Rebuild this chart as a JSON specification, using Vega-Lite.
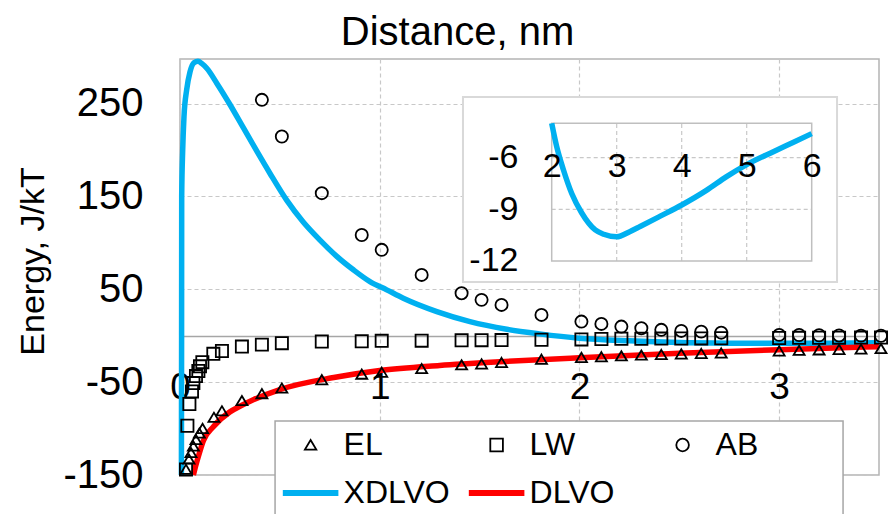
{
  "$schema": "https://vega.github.io/schema/vega-lite/v6.json",
  "width": 699,
  "height": 416,
  "autosize": "none",
  "padding": {"left": 180, "top": 59, "right": 10, "bottom": 39},
  "background": "white",
  "config": {
    "font": "Liberation Sans",
    "view": {"stroke": "#b4b4b4", "strokeWidth": 1.5},
    "axis": {
      "labelFont": "Liberation Sans",
      "labelColor": "#000000",
      "titleFont": "Liberation Sans",
      "titleColor": "#000000",
      "titleFontWeight": "normal",
      "ticks": false,
      "domain": false,
      "labelFlush": false,
      "labelOverlap": false,
      "labelExpr": "'' + datum.value"
    }
  },
  "datasets": {
    "xdlvo": [
      {"x": 0.007, "y": -150}, {"x": 0.008, "y": 0}, {"x": 0.0085, "y": 150},
      {"x": 0.0135, "y": 200}, {"x": 0.02, "y": 236}, {"x": 0.0335, "y": 265},
      {"x": 0.05, "y": 284}, {"x": 0.07, "y": 294}, {"x": 0.09, "y": 295.5},
      {"x": 0.11, "y": 293}, {"x": 0.134, "y": 288}, {"x": 0.184, "y": 272},
      {"x": 0.25, "y": 249}, {"x": 0.317, "y": 224}, {"x": 0.384, "y": 199},
      {"x": 0.45, "y": 175}, {"x": 0.534, "y": 146}, {"x": 0.617, "y": 122.5},
      {"x": 0.701, "y": 103}, {"x": 0.785, "y": 85.5}, {"x": 0.868, "y": 71},
      {"x": 0.951, "y": 58.3}, {"x": 1.035, "y": 49.4}, {"x": 1.118, "y": 40.4},
      {"x": 1.286, "y": 26}, {"x": 1.452, "y": 15.2}, {"x": 1.636, "y": 7},
      {"x": 1.8, "y": 2}, {"x": 2.0, "y": -2.7}, {"x": 2.25, "y": -5.5},
      {"x": 2.5, "y": -7.3}, {"x": 2.75, "y": -8}, {"x": 3.0, "y": -8.2},
      {"x": 3.25, "y": -8}, {"x": 3.5, "y": -7.6}
    ],
    "dlvo": [
      {"x": 0.067, "y": -150}, {"x": 0.08, "y": -139}, {"x": 0.092, "y": -130},
      {"x": 0.117, "y": -113}, {"x": 0.167, "y": -98}, {"x": 0.25, "y": -82},
      {"x": 0.3, "y": -76}, {"x": 0.367, "y": -69}, {"x": 0.5, "y": -58},
      {"x": 0.77, "y": -45}, {"x": 1.0, "y": -37.5}, {"x": 1.3, "y": -32},
      {"x": 1.6, "y": -28}, {"x": 2.0, "y": -23.7}, {"x": 2.5, "y": -19},
      {"x": 3.0, "y": -15}, {"x": 3.5, "y": -11.8}
    ],
    "markers": [
      {"series": "EL", "x": 0.03, "y": -144}, {"series": "EL", "x": 0.045, "y": -133},
      {"series": "EL", "x": 0.055, "y": -126}, {"series": "EL", "x": 0.067, "y": -119},
      {"series": "EL", "x": 0.08, "y": -112}, {"series": "EL", "x": 0.097, "y": -105},
      {"series": "EL", "x": 0.113, "y": -100}, {"series": "EL", "x": 0.17, "y": -88},
      {"series": "EL", "x": 0.21, "y": -81}, {"series": "EL", "x": 0.31, "y": -70},
      {"series": "EL", "x": 0.41, "y": -62.5}, {"series": "EL", "x": 0.51, "y": -56.5},
      {"series": "EL", "x": 0.71, "y": -47.5}, {"series": "EL", "x": 0.91, "y": -41.5},
      {"series": "EL", "x": 1.01, "y": -39.5}, {"series": "EL", "x": 1.21, "y": -35.5},
      {"series": "EL", "x": 1.41, "y": -31.5}, {"series": "EL", "x": 1.51, "y": -30.5},
      {"series": "EL", "x": 1.61, "y": -29}, {"series": "EL", "x": 1.81, "y": -25.5},
      {"series": "EL", "x": 2.01, "y": -23.5}, {"series": "EL", "x": 2.11, "y": -22.8},
      {"series": "EL", "x": 2.21, "y": -21.8}, {"series": "EL", "x": 2.31, "y": -21},
      {"series": "EL", "x": 2.41, "y": -20.4}, {"series": "EL", "x": 2.51, "y": -19.8},
      {"series": "EL", "x": 2.61, "y": -19.3}, {"series": "EL", "x": 2.71, "y": -18.8},
      {"series": "EL", "x": 3.0, "y": -16.5}, {"series": "EL", "x": 3.1, "y": -15.9},
      {"series": "EL", "x": 3.2, "y": -15.4}, {"series": "EL", "x": 3.3, "y": -14.9},
      {"series": "EL", "x": 3.41, "y": -14.5}, {"series": "EL", "x": 3.51, "y": -14},
      {"series": "LW", "x": 0.03, "y": -144}, {"series": "LW", "x": 0.037, "y": -97},
      {"series": "LW", "x": 0.047, "y": -73.5}, {"series": "LW", "x": 0.06, "y": -60},
      {"series": "LW", "x": 0.067, "y": -51}, {"series": "LW", "x": 0.08, "y": -43.5},
      {"series": "LW", "x": 0.092, "y": -38}, {"series": "LW", "x": 0.1, "y": -33},
      {"series": "LW", "x": 0.112, "y": -28.5}, {"series": "LW", "x": 0.167, "y": -19.5},
      {"series": "LW", "x": 0.21, "y": -16.5}, {"series": "LW", "x": 0.31, "y": -11.7},
      {"series": "LW", "x": 0.41, "y": -9.6}, {"series": "LW", "x": 0.51, "y": -8},
      {"series": "LW", "x": 0.71, "y": -6.3}, {"series": "LW", "x": 0.91, "y": -6},
      {"series": "LW", "x": 1.01, "y": -5.5}, {"series": "LW", "x": 1.21, "y": -5.3},
      {"series": "LW", "x": 1.41, "y": -5}, {"series": "LW", "x": 1.51, "y": -4.8},
      {"series": "LW", "x": 1.61, "y": -4.7}, {"series": "LW", "x": 1.81, "y": -4.3},
      {"series": "LW", "x": 2.01, "y": -4}, {"series": "LW", "x": 2.11, "y": -3.5},
      {"series": "LW", "x": 2.21, "y": -3.3}, {"series": "LW", "x": 2.31, "y": -3.2},
      {"series": "LW", "x": 2.41, "y": -3.1}, {"series": "LW", "x": 2.51, "y": -3},
      {"series": "LW", "x": 2.61, "y": -2.9}, {"series": "LW", "x": 2.71, "y": -2.8},
      {"series": "LW", "x": 3.0, "y": -2.4}, {"series": "LW", "x": 3.1, "y": -2.3},
      {"series": "LW", "x": 3.2, "y": -2.2}, {"series": "LW", "x": 3.3, "y": -2.1},
      {"series": "LW", "x": 3.41, "y": -2}, {"series": "LW", "x": 3.51, "y": -1.9},
      {"series": "AB", "x": 0.41, "y": 254}, {"series": "AB", "x": 0.51, "y": 214.5},
      {"series": "AB", "x": 0.71, "y": 153.5}, {"series": "AB", "x": 0.91, "y": 108.5},
      {"series": "AB", "x": 1.01, "y": 92.5}, {"series": "AB", "x": 1.21, "y": 65.5},
      {"series": "AB", "x": 1.41, "y": 45.8}, {"series": "AB", "x": 1.51, "y": 38.6},
      {"series": "AB", "x": 1.61, "y": 33.2}, {"series": "AB", "x": 1.81, "y": 22.4},
      {"series": "AB", "x": 2.01, "y": 15.2}, {"series": "AB", "x": 2.11, "y": 12.7},
      {"series": "AB", "x": 2.21, "y": 9.8}, {"series": "AB", "x": 2.31, "y": 8.1},
      {"series": "AB", "x": 2.41, "y": 6.3}, {"series": "AB", "x": 2.51, "y": 5.2},
      {"series": "AB", "x": 2.61, "y": 4.4}, {"series": "AB", "x": 2.71, "y": 3.3},
      {"series": "AB", "x": 3.0, "y": 0.9}, {"series": "AB", "x": 3.1, "y": 0.8},
      {"series": "AB", "x": 3.2, "y": 0.5}, {"series": "AB", "x": 3.3, "y": 0.3},
      {"series": "AB", "x": 3.41, "y": 0.1}, {"series": "AB", "x": 3.51, "y": 0}
    ],
    "inset_curve": [
      {"x": 2.0, "y": -4.0}, {"x": 2.077, "y": -5.36}, {"x": 2.18, "y": -6.7},
      {"x": 2.31, "y": -8.1}, {"x": 2.46, "y": -9.2}, {"x": 2.67, "y": -10.2},
      {"x": 2.8, "y": -10.45}, {"x": 3.0, "y": -10.6}, {"x": 3.2, "y": -10.3},
      {"x": 3.36, "y": -10.0}, {"x": 3.67, "y": -9.4}, {"x": 4.0, "y": -8.75},
      {"x": 4.38, "y": -7.9}, {"x": 4.69, "y": -7.1}, {"x": 5.0, "y": -6.4},
      {"x": 5.41, "y": -5.65}, {"x": 5.72, "y": -5.1}, {"x": 6.0, "y": -4.6}
    ],
    "inset_grid_x": [{"x": 3}, {"x": 4}, {"x": 5}],
    "inset_grid_y": [{"y": -9}, {"y": -6}]
  },
  "layer": [
    {
      "layer": [
        {
          "data": {"name": "xdlvo"},
          "mark": {"type": "line", "stroke": "#00b0f0", "strokeWidth": 5.5, "interpolate": "monotone"},
          "encoding": {
            "x": {
              "field": "x", "type": "quantitative",
              "scale": {"domain": [0, 3.5], "nice": false, "zero": false},
              "axis": {
                "orient": "bottom", "offset": -139, "values": [0, 1, 2, 3],
                "grid": true, "gridColor": "#c8c8c8", "gridDash": [4, 3], "gridWidth": 1.2,
                "domain": true, "domainColor": "#a6a6a6", "domainWidth": 1.6,
                "labelPadding": 33, "labelFontSize": 37,
                "title": "Distance, nm", "titleFontSize": 40, "titleX": 277, "titleY": -292,
                "titleAlign": "center", "titleBaseline": "alphabetic", "titleAngle": 0
              }
            },
            "y": {
              "field": "y", "type": "quantitative",
              "scale": {"domain": [-150, 298], "nice": false, "zero": false},
              "axis": {
                "orient": "left",
                "values": [-150, -50, 50, 150, 250],
                "grid": true, "gridColor": "#c8c8c8", "gridDash": [4, 3], "gridWidth": 1.2,
                "labelPadding": 37, "labelFontSize": 40,
                "title": "Energy, J/kT", "titleFontSize": 34, "titleAngle": 270,
                "titleX": -137, "titleY": 202, "titleAlign": "center", "titleBaseline": "alphabetic"
              }
            }
          }
        },
        {
          "data": {"name": "dlvo"},
          "mark": {"type": "line", "stroke": "#ff0000", "strokeWidth": 5.5, "interpolate": "monotone"},
          "encoding": {
            "x": {"field": "x", "type": "quantitative"},
            "y": {"field": "y", "type": "quantitative"}
          }
        },
        {
          "data": {"name": "markers"},
          "mark": {"type": "point", "size": 841, "filled": false, "opacity": 1, "strokeWidth": 1.8},
          "encoding": {
            "x": {"field": "x", "type": "quantitative"},
            "y": {"field": "y", "type": "quantitative"},
            "shape": {
              "field": "series", "type": "nominal",
              "scale": {
                "domain": ["EL", "LW", "AB", "XDLVO", "DLVO"],
                "range": [
                  "M0,-0.33L0.38,0.31L-0.38,0.31Z",
                  "M-0.42,-0.42H0.42V0.42H-0.42Z",
                  "M0.42,0A0.42,0.42 0 1 1 -0.42,0A0.42,0.42 0 1 1 0.42,0Z",
                  "M-1.853,-0.14H1.853M-1.853,-0.07H1.853M-1.853,0H1.853M-1.853,0.07H1.853M-1.853,0.14H1.853",
                  "M-1.853,-0.14H1.853M-1.853,-0.07H1.853M-1.853,0H1.853M-1.853,0.07H1.853M-1.853,0.14H1.853"
                ]
              },
              "legend": {
                "title": null, "orient": "none", "legendX": 95, "legendY": 362,
                "direction": "horizontal", "columns": 3, "gridAlign": "all",
                "columnPadding": 15, "rowPadding": 16,
                "padding": 8, "strokeColor": "transparent", "fillColor": "transparent",
                "labelFont": "Liberation Sans", "labelFontSize": 32, "labelColor": "#000000",
                "labelOffset": 17, "symbolOffset": 11.6, "symbolSize": 900, "symbolStrokeWidth": 1.8
              }
            },
            "stroke": {
              "field": "series", "type": "nominal",
              "scale": {
                "domain": ["EL", "LW", "AB", "XDLVO", "DLVO"],
                "range": ["#000000", "#000000", "#000000", "#00b0f0", "#ff0000"]
              },
              "legend": {
                "title": null, "orient": "none", "legendX": 95, "legendY": 362,
                "direction": "horizontal", "columns": 3, "gridAlign": "all",
                "columnPadding": 15, "rowPadding": 16,
                "padding": 8, "strokeColor": "transparent", "fillColor": "transparent",
                "labelFont": "Liberation Sans", "labelFontSize": 32, "labelColor": "#000000",
                "labelOffset": 17, "symbolOffset": 11.6, "symbolSize": 900, "symbolStrokeWidth": 1.8
              }
            }
          }
        },
        {
          "data": {"values": [{}]},
          "mark": {"type": "rect", "fill": "#ffffff", "stroke": "#a6a6a6", "strokeWidth": 1.5},
          "encoding": {
            "x": {"datum": 0.476, "type": "quantitative"},
            "x2": {"datum": 3.32},
            "y": {"datum": -91.8, "type": "quantitative"},
            "y2": {"datum": -205}
          }
        }
      ]
    },
    {
      "layer": [
        {
          "data": {"values": [{}]},
          "mark": {"type": "rect", "fill": "#ffffff", "stroke": "#d9d9d9", "strokeWidth": 2},
          "encoding": {
            "x": {"datum": 0.635, "type": "quantitative", "scale": {"domain": [2, 6], "range": [371.7, 631.7], "nice": false, "zero": false}},
            "x2": {"datum": 6.39},
            "y": {"datum": -2.47, "type": "quantitative", "scale": {"domain": [-12, -4], "range": [201.9, 64.3], "nice": false, "zero": false}},
            "y2": {"datum": -13.23}
          }
        },
        {
          "data": {"name": "inset_grid_x"},
          "mark": {"type": "rule", "stroke": "#c8c8c8", "strokeDash": [4, 3], "strokeWidth": 1.2},
          "encoding": {
            "x": {"field": "x", "type": "quantitative"},
            "y": {"datum": -12, "type": "quantitative"},
            "y2": {"datum": -4}
          }
        },
        {
          "data": {"name": "inset_grid_y"},
          "mark": {"type": "rule", "stroke": "#c8c8c8", "strokeDash": [4, 3], "strokeWidth": 1.2},
          "encoding": {
            "x": {"datum": 2, "type": "quantitative"},
            "x2": {"datum": 6},
            "y": {"field": "y", "type": "quantitative"}
          }
        },
        {
          "data": {"values": [{}]},
          "mark": {"type": "rect", "fillOpacity": 0, "fill": "#ffffff", "stroke": "#bfbfbf", "strokeWidth": 1.5},
          "encoding": {
            "x": {"datum": 2, "type": "quantitative"},
            "x2": {"datum": 6},
            "y": {"datum": -12, "type": "quantitative"},
            "y2": {"datum": -4}
          }
        },
        {
          "data": {"name": "inset_curve"},
          "mark": {"type": "line", "stroke": "#00b0f0", "strokeWidth": 5.5, "interpolate": "monotone"},
          "encoding": {
            "x": {
              "field": "x", "type": "quantitative",
              "scale": {"domain": [2, 6], "range": [371.7, 631.7], "nice": false, "zero": false},
              "axis": {
                "orient": "bottom", "offset": -326, "values": [2, 3, 4, 5, 6],
                "labelPadding": 0, "labelFontSize": 34, "grid": false, "title": null, "zindex": 1
              }
            },
            "y": {
              "field": "y", "type": "quantitative",
              "scale": {"domain": [-12, -4], "range": [201.9, 64.3], "nice": false, "zero": false},
              "axis": {
                "orient": "left", "offset": -371.7, "values": [-12, -9, -6],
                "labelPadding": 33.7, "labelFontSize": 34, "grid": false, "title": null, "zindex": 1
              }
            }
          }
        }
      ]
    }
  ],
  "resolve": {"scale": {"x": "independent", "y": "independent"}}
}
